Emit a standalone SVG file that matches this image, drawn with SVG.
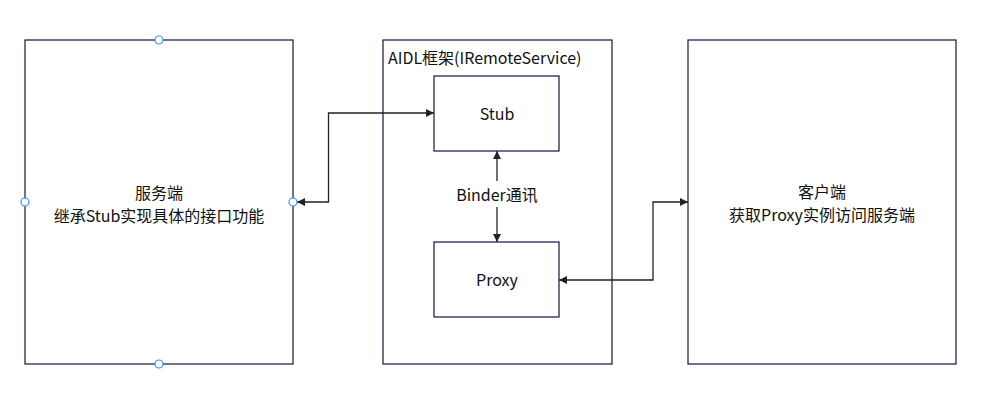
<svg xmlns="http://www.w3.org/2000/svg" width="1001" height="403" viewBox="0 0 1001 403">
<style>
.box{fill:#fff;stroke:#101840;stroke-width:1.2}
.con{fill:none;stroke:#222;stroke-width:1.3}
.h{fill:#fff;stroke:#3d8fef;stroke-width:1.2}
text{font-family:"Noto Sans CJK SC","Noto Sans",sans-serif;font-size:16px;fill:#111;text-anchor:middle}
</style>
<defs>
<marker id="a" viewBox="0 0 10 10" refX="10" refY="5" markerWidth="8" markerHeight="8" markerUnits="userSpaceOnUse" orient="auto-start-reverse"><path d="M0,0 L10,5 L0,10 z" fill="#222"/></marker>
</defs>
<rect width="1001" height="403" fill="#fff"/>
<g id="server">
<rect class="box" x="25" y="40" width="268" height="324"/>
<text x="159" y="199">服务端</text>
<text x="159" y="222">继承Stub实现具体的接口功能</text>
</g>
<g id="aidl">
<rect class="box" x="383" y="40" width="229" height="324"/>
<text x="388" y="64" style="text-anchor:start">AIDL框架(IRemoteService)</text>
</g>
<g id="stub">
<rect class="box" x="434" y="76" width="125" height="75"/>
<text x="497" y="120">Stub</text>
</g>
<g id="proxy">
<rect class="box" x="434" y="242" width="125" height="75"/>
<text x="497" y="286">Proxy</text>
</g>
<g id="client">
<rect class="box" x="688" y="40" width="268" height="324"/>
<text x="822" y="198">客户端</text>
<text x="822" y="221">获取Proxy实例访问服务端</text>
</g>
<g id="connectors">
<path class="con" d="M297,202 H328.5 V113 H434" marker-start="url(#a)" marker-end="url(#a)"/>
<path class="con" d="M497,181 V151" marker-end="url(#a)"/>
<path class="con" d="M497,207 V242" marker-end="url(#a)"/>
<path class="con" d="M559,280 H653 V202 H688" marker-start="url(#a)" marker-end="url(#a)"/>
<text x="497" y="201">Binder通讯</text>
</g>
<g id="handles">
<circle class="h" cx="159" cy="40" r="4"/>
<circle class="h" cx="25" cy="202" r="4"/>
<circle class="h" cx="293" cy="202" r="4"/>
<circle class="h" cx="159" cy="364" r="4"/>
</g>
</svg>
